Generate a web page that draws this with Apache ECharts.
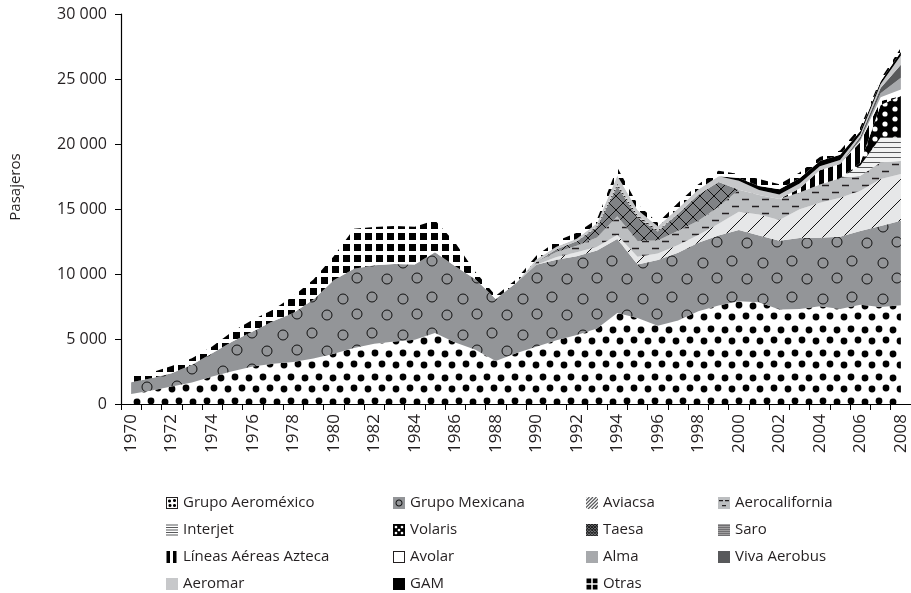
<!DOCTYPE html>
<html>
<head>
<meta charset="utf-8">
<script src="https://cdn.jsdelivr.net/npm/echarts@6/dist/echarts.min.js"></script>
<style>
  html, body { margin: 0; padding: 0; background: #fff; }
  #chart { width: 911px; height: 593px; }
</style>
</head>
<body>
<div id="chart"></div>
<script>
// años (eje x)
const years = ['1970', '1971', '1972', '1973', '1974', '1975', '1976', '1977', '1978', '1979',
  '1980', '1981', '1982', '1983', '1984', '1985', '1986', '1987', '1988', '1989',
  '1990', '1991', '1992', '1993', '1994', '1995', '1996', '1997', '1998', '1999',
  '2000', '2001', '2002', '2003', '2004', '2005', '2006', '2007', '2008'];

// pasajeros por aerolínea
const aeromexico = [770, 1030, 1340, 1650, 2110, 2520, 2880, 3090, 3240, 3500,
  3860, 4300, 4630, 4810, 4940, 5460, 4730, 4170, 3300, 3900,
  4400, 4900, 5300, 5800, 7000, 6610, 6020, 6430, 7130, 7570,
  7900, 7820, 7260, 7310, 7510, 7310, 7640, 7460, 7600];
const mexicana = [900, 950, 1030, 1360, 1800, 2290, 2700, 3270, 3760, 4530,
  5660, 6100, 6050, 5950, 5790, 6220, 5870, 5430, 4780, 5400,
  6320, 6200, 6070, 6000, 5700, 4120, 5050, 5200, 5270, 5400,
  5480, 5150, 5300, 5450, 5280, 5560, 5660, 6240, 6500];
const aviacsa = [0, 0, 0, 0, 0, 0, 0, 0, 0, 0,
  0, 0, 0, 0, 0, 0, 0, 0, 0, 0,
  0, 200, 300, 300, 300, 600, 500, 600, 600, 900,
  1400, 1600, 1600, 2220, 2700, 3000, 3100, 3600, 3600];
const aerocalifornia = [0, 0, 0, 0, 0, 0, 0, 0, 0, 0,
  0, 0, 0, 0, 0, 0, 0, 0, 0, 0,
  200, 400, 500, 700, 1450, 1200, 1000, 1100, 1100, 1300,
  1700, 1500, 1600, 1290, 1400, 1500, 1150, 1300, 1000];
const interjet = [0, 0, 0, 0, 0, 0, 0, 0, 0, 0,
  0, 0, 0, 0, 0, 0, 0, 0, 0, 0,
  0, 0, 0, 0, 0, 0, 0, 0, 0, 0,
  0, 0, 0, 0, 0, 0, 800, 1900, 1800];
const volaris = [0, 0, 0, 0, 0, 0, 0, 0, 0, 0,
  0, 0, 0, 0, 0, 0, 0, 0, 0, 0,
  0, 0, 0, 0, 0, 0, 0, 0, 0, 0,
  0, 0, 0, 0, 0, 0, 200, 2500, 3200];
const taesa = [0, 0, 0, 0, 0, 0, 0, 0, 0, 0,
  0, 0, 0, 0, 0, 0, 0, 0, 0, 0,
  0, 200, 350, 800, 2300, 1800, 700, 1300, 2000, 1900,
  0, 0, 0, 0, 0, 0, 0, 0, 0];
const saro = [0, 0, 0, 0, 0, 0, 0, 0, 0, 0,
  0, 0, 0, 0, 0, 0, 0, 0, 0, 0,
  0, 0, 0, 100, 200, 200, 100, 0, 0, 0,
  0, 0, 0, 0, 0, 0, 0, 0, 0];
const azteca = [0, 0, 0, 0, 0, 0, 0, 0, 0, 0,
  0, 0, 0, 0, 0, 0, 0, 0, 0, 0,
  0, 0, 0, 0, 0, 0, 0, 0, 0, 0,
  0, 0, 0, 300, 1100, 1100, 1600, 300, 0];
const avolar = [0, 0, 0, 0, 0, 0, 0, 0, 0, 0,
  0, 0, 0, 0, 0, 0, 0, 0, 0, 0,
  0, 0, 0, 0, 0, 0, 0, 0, 0, 0,
  0, 0, 0, 0, 0, 0, 100, 300, 500];
const alma = [0, 0, 0, 0, 0, 0, 0, 0, 0, 0,
  0, 0, 0, 0, 0, 0, 0, 0, 0, 0,
  0, 0, 0, 0, 0, 0, 0, 0, 0, 0,
  0, 0, 0, 0, 0, 0, 100, 300, 900];
const vivaAerobus = [0, 0, 0, 0, 0, 0, 0, 0, 0, 0,
  0, 0, 0, 0, 0, 0, 0, 0, 0, 0,
  0, 0, 0, 0, 0, 0, 0, 0, 0, 0,
  0, 0, 0, 0, 0, 0, 200, 400, 1000];
const aeromar = [0, 0, 0, 0, 0, 0, 0, 0, 0, 0,
  0, 0, 0, 0, 0, 0, 0, 0, 0, 0,
  200, 200, 200, 200, 600, 400, 300, 400, 400, 450,
  700, 400, 350, 400, 300, 300, 200, 300, 700];
const gam = [0, 0, 0, 0, 0, 0, 0, 0, 0, 0,
  0, 0, 0, 0, 0, 0, 0, 0, 0, 0,
  0, 0, 0, 0, 0, 0, 0, 0, 0, 0,
  200, 300, 400, 400, 400, 400, 250, 200, 300];
const otras = [440, 440, 560, 510, 510, 770, 900, 890, 1280, 1540,
  1850, 3080, 2930, 2930, 2910, 2450, 1800, 550, 250, 270,
  280, 430, 460, 310, 650, 430, 280, 460, 410, 420,
  310, 530, 390, 440, 310, 330, 300, 200, 300];

const yTicks = [0, 5000, 10000, 15000, 20000, 25000, 30000];

// --- tramas (patterns) dibujadas en canvas ---
function makeCanvas(w, h, bg) {
  const c = document.createElement('canvas');
  c.width = w; c.height = h;
  const ctx = c.getContext('2d');
  ctx.fillStyle = bg;
  ctx.fillRect(0, 0, w, h);
  return [c, ctx];
}
function tile(w, h, bg, draw) {
  const [c, ctx] = makeCanvas(w, h, bg);
  if (draw) draw(ctx, w, h);
  return { image: c, repeat: 'repeat' };
}
function wrapDots(ctx, w, h, pts, r, fill, stroke) {
  pts.forEach(function (p) {
    for (let dx = -w; dx <= w; dx += w) {
      for (let dy = -h; dy <= h; dy += h) {
        ctx.beginPath();
        ctx.arc(p[0] + dx, p[1] + dy, r, 0, Math.PI * 2);
        if (fill) { ctx.fillStyle = fill; ctx.fill(); }
        if (stroke) { ctx.strokeStyle = stroke; ctx.lineWidth = 1; ctx.stroke(); }
      }
    }
  });
}

const pAeromexico = tile(28, 24, '#ffffff', function (ctx, w, h) {
  wrapDots(ctx, w, h, [[4, 5], [18, 4], [11, 17], [25, 18]], 3.4, '#000');
});
const pMexicana = tile(60, 36, '#939598', function (ctx, w, h) {
  wrapDots(ctx, w, h, [[12, 9], [43, 11], [27, 27], [57, 26]], 5, null, '#111');
});
const pAviacsa = tile(20, 20, '#e6e7e8', function (ctx) {
  ctx.strokeStyle = '#111'; ctx.lineWidth = 1;
  ctx.beginPath();
  ctx.moveTo(-2, 22); ctx.lineTo(22, -2);
  ctx.stroke();
});
const pAerocal = tile(20, 14, '#bcbec0', function (ctx) {
  ctx.strokeStyle = '#231f20'; ctx.lineWidth = 1.3;
  ctx.beginPath();
  ctx.moveTo(2, 3.5); ctx.lineTo(9, 3.5);
  ctx.moveTo(12, 10.5); ctx.lineTo(19, 10.5);
  ctx.stroke();
});
const pInterjet = tile(5, 5, '#f1f2f2', function (ctx) {
  ctx.fillStyle = '#58595b';
  ctx.fillRect(0, 2, 5, 1);
});
const pVolaris = tile(20, 20, '#000000', function (ctx, w, h) {
  wrapDots(ctx, w, h, [[5, 4], [15, 9], [5, 14], [15, 19]], 2.6, '#fff');
});
const pTaesa = tile(14, 14, '#808285', function (ctx) {
  ctx.strokeStyle = '#111'; ctx.lineWidth = 1;
  ctx.beginPath();
  ctx.moveTo(-1, -1); ctx.lineTo(15, 15);
  ctx.moveTo(-1, 15); ctx.lineTo(15, -1);
  ctx.stroke();
});
const pSaro = tile(3, 3, '#d1d3d4', function (ctx) {
  ctx.fillStyle = '#231f20';
  ctx.fillRect(0, 1, 3, 1.2);
});
const pAzteca = tile(9, 2, '#ffffff', function (ctx) {
  ctx.fillStyle = '#000';
  ctx.fillRect(0, 0, 5, 2);
});
const pOtras = tile(11, 11, '#ffffff', function (ctx) {
  ctx.fillStyle = '#000';
  ctx.fillRect(2, 2, 7, 7);
});

// iconos de la leyenda (24x24, se muestran a 12x12)
function icon(bg, draw) {
  const [c, ctx] = makeCanvas(24, 24, bg);
  if (draw) draw(ctx);
  return 'image://' + c.toDataURL();
}
function frame(ctx) {
  ctx.strokeStyle = '#231f20'; ctx.lineWidth = 2;
  ctx.strokeRect(1, 1, 22, 22);
}
const icons = {
  'Grupo Aeroméxico': icon('#ffffff', function (ctx) {
    ctx.fillStyle = '#000';
    [[7, 8], [17, 7], [8, 17], [17, 17]].forEach(function (p) {
      ctx.beginPath(); ctx.arc(p[0], p[1], 3, 0, Math.PI * 2); ctx.fill();
    });
    frame(ctx);
  }),
  'Grupo Mexicana': icon('#939598', function (ctx) {
    ctx.strokeStyle = '#111'; ctx.lineWidth = 2;
    ctx.beginPath(); ctx.arc(12, 12, 6, 0, Math.PI * 2); ctx.stroke();
  }),
  'Aviacsa': icon('#ffffff', function (ctx) {
    ctx.strokeStyle = '#58595b'; ctx.lineWidth = 2.5;
    ctx.beginPath();
    for (let k = -24; k <= 24; k += 7) { ctx.moveTo(k, 24); ctx.lineTo(k + 24, 0); }
    ctx.stroke();
  }),
  'Aerocalifornia': icon('#bcbec0', function (ctx) {
    ctx.fillStyle = '#231f20';
    ctx.fillRect(2, 6, 8, 2.5); ctx.fillRect(14, 6, 8, 2.5);
    ctx.fillRect(8, 16, 8, 2.5);
  }),
  'Interjet': icon('#ffffff', function (ctx) {
    ctx.fillStyle = '#58595b';
    for (let y = 1; y < 24; y += 5) ctx.fillRect(0, y, 24, 2);
  }),
  'Volaris': icon('#000000', function (ctx) {
    ctx.fillStyle = '#fff';
    [[6, 6], [18, 6], [12, 12], [6, 18], [18, 18]].forEach(function (p) {
      ctx.beginPath(); ctx.arc(p[0], p[1], 2.6, 0, Math.PI * 2); ctx.fill();
    });
  }),
  'Taesa': icon('#808285', function (ctx) {
    ctx.strokeStyle = '#111'; ctx.lineWidth = 1.5;
    ctx.beginPath();
    for (let k = -24; k <= 24; k += 6) {
      ctx.moveTo(k, 0); ctx.lineTo(k + 24, 24);
      ctx.moveTo(k, 24); ctx.lineTo(k + 24, 0);
    }
    ctx.stroke();
  }),
  'Saro': icon('#ffffff', function (ctx) {
    ctx.fillStyle = '#414042';
    for (let y = 1; y < 24; y += 4) ctx.fillRect(0, y, 24, 2.5);
  }),
  'Líneas Aéreas Azteca': icon('#ffffff', function (ctx) {
    ctx.fillStyle = '#000';
    ctx.fillRect(1, 0, 7, 24); ctx.fillRect(14, 0, 7, 24);
  }),
  'Avolar': icon('#ffffff', function (ctx) { frame(ctx); }),
  'Alma': icon('#a7a9ac'),
  'Viva Aerobus': icon('#58595b'),
  'Aeromar': icon('#c7c8ca'),
  'GAM': icon('#000000'),
  'Otras': icon('#ffffff', function (ctx) {
    ctx.fillStyle = '#000';
    ctx.fillRect(1, 1, 9.5, 9.5); ctx.fillRect(13.5, 1, 9.5, 9.5);
    ctx.fillRect(1, 13.5, 9.5, 9.5); ctx.fillRect(13.5, 13.5, 9.5, 9.5);
  })
};

const layers = [
  ['Grupo Aeroméxico', aeromexico, pAeromexico],
  ['Grupo Mexicana', mexicana, pMexicana],
  ['Aviacsa', aviacsa, pAviacsa],
  ['Aerocalifornia', aerocalifornia, pAerocal],
  ['Interjet', interjet, pInterjet],
  ['Volaris', volaris, pVolaris],
  ['Taesa', taesa, pTaesa],
  ['Saro', saro, pSaro],
  ['Líneas Aéreas Azteca', azteca, pAzteca],
  ['Avolar', avolar, '#ffffff'],
  ['Alma', alma, '#a7a9ac'],
  ['Viva Aerobus', vivaAerobus, '#58595b'],
  ['Aeromar', aeromar, '#c7c8ca'],
  ['GAM', gam, '#000000'],
  ['Otras', otras, pOtras]
];

const series = layers.map(function (l) {
  return {
    name: l[0],
    type: 'line',
    stack: 'total',
    data: l[1],
    symbol: 'none',
    lineStyle: { width: 0 },
    itemStyle: { color: l[2] },
    areaStyle: { color: l[2], opacity: 1 },
    emphasis: { disabled: true },
    silent: true
  };
});

// leyenda en 4 columnas x 4 filas
const legendCols = [166, 393, 586, 718];
const legendRows = [503, 530, 557, 584];
const legendGrid = [
  ['Grupo Aeroméxico', 'Grupo Mexicana', 'Aviacsa', 'Aerocalifornia'],
  ['Interjet', 'Volaris', 'Taesa', 'Saro'],
  ['Líneas Aéreas Azteca', 'Avolar', 'Alma', 'Viva Aerobus'],
  ['Aeromar', 'GAM', 'Otras']
];
const legends = [];
legendGrid.forEach(function (row, r) {
  row.forEach(function (name, c) {
    legends.push({
      left: legendCols[c],
      top: legendRows[r] - 8,
      padding: 0,
      itemWidth: 12,
      itemHeight: 12,
      selectedMode: false,
      textStyle: { fontFamily: 'Open Sans', fontSize: 15, lineHeight: 16, color: '#231f20' },
      data: [{ name: name, icon: icons[name] }]
    });
  });
});

const chart = echarts.init(document.getElementById('chart'), null, { renderer: 'canvas' });
chart.setOption({
  animation: false,
  backgroundColor: '#ffffff',
  textStyle: { fontFamily: 'Open Sans' },
  grid: { left: 121, right: 0, top: 14, bottom: 189 },
  legend: legends,
  graphic: [{
    type: 'text',
    x: 16,
    y: 187,
    rotation: Math.PI / 2,
    style: {
      text: 'Pasajeros',
      fontFamily: 'Open Sans',
      fontSize: 15,
      fill: '#231f20',
      align: 'center',
      verticalAlign: 'middle'
    }
  }],
  xAxis: {
    type: 'category',
    data: years,
    boundaryGap: true,
    axisLine: { lineStyle: { color: '#000', width: 1.2 } },
    axisTick: { show: true, interval: 0, length: 6, lineStyle: { color: '#000' } },
    axisLabel: {
      interval: 1,
      rotate: 90,
      margin: 10,
      fontFamily: 'Open Sans',
      fontSize: 17,
      color: '#231f20'
    },
    splitLine: { show: false }
  },
  yAxis: {
    type: 'value',
    min: yTicks[0],
    max: yTicks[yTicks.length - 1],
    interval: 5000,
    axisLine: { show: true, lineStyle: { color: '#000', width: 1.2 } },
    axisTick: { show: true, length: 6, lineStyle: { color: '#000' } },
    axisLabel: {
      margin: 14,
      fontFamily: 'Open Sans',
      fontSize: 16,
      color: '#231f20',
      formatter: function (v) {
        return String(v).replace(/\B(?=(\d{3})+(?!\d))/g, ' ');
      }
    },
    splitLine: { show: false }
  },
  series: series
});
</script>
</body>
</html>
